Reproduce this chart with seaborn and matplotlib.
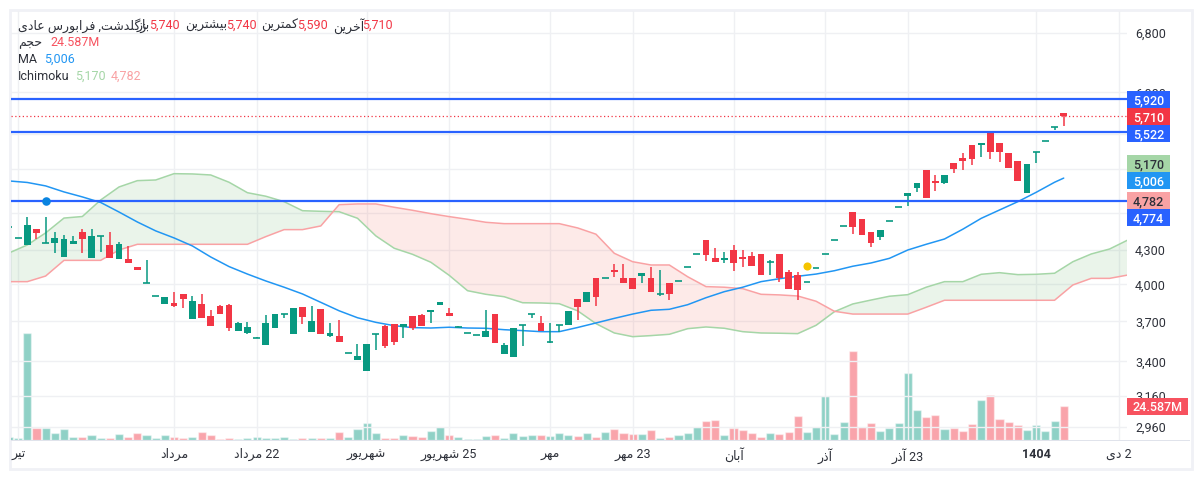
#!python3.12
import matplotlib
matplotlib.use("Agg")
import matplotlib.pyplot as plt
from matplotlib.patches import Rectangle
from matplotlib.ticker import FixedLocator, NullLocator
import numpy as np
import pandas as pd
import seaborn as sns

W, H = 1203, 478

# candles start two bars left of the first full one
opens = [4515, 4410, 4347, 4496, 4365, 4365, 4238, 4356, 4468, 4229, 4426, 4347, 4220, 4220, 4149, 4009, 3901, 3838, 3846, 3920,
         3718, 3838, 3742, 3821, 3829, 3625, 3610, 3572, 3520, 3648, 3761, 3603, 3813, 3618, 3797, 3587, 3587, 3458, 3410, 3334,
         3603, 3664, 3679, 3656, 3742, 3750, 3773, 3829, 3765, 3656, 3608, 3593, 3580, 3757, 3453, 3432, 3671, 3757, 3687, 3542,
         3671, 3671, 3878, 3854, 4054, 4051, 4123, 4054, 4054, 4071, 4054, 3920, 4012, 4026, 4146, 4262, 4393, 4229, 4211, 4301,
         4238, 4247, 4265, 4194, 4265, 4106, 4080, 4018, 4138, 4262, 4390, 4522, 4660, 4592, 4468, 4421, 4570, 4707, 4821, 4903,
         5092, 4976, 4955, 5168, 5223, 5368, 5368, 5529, 5391, 5279, 5190, 4851, 5286, 5410, 5573, 5740]
closes = [4515, 4410, 4535, 4462, 4365, 4412, 4402, 4384, 4402, 4431, 4426, 4229, 4356, 4185, 4123, 4009, 3901, 3895, 3821, 3878,
          3862, 3726, 3664, 3757, 3648, 3687, 3656, 3572, 3687, 3757, 3761, 3805, 3734, 3702, 3603, 3610, 3542, 3458, 3439, 3527,
          3603, 3512, 3542, 3679, 3648, 3664, 3789, 3854, 3742, 3656, 3608, 3593, 3625, 3535, 3520, 3648, 3671, 3757, 3625, 3542,
          3671, 3781, 3813, 3936, 3895, 4051, 4106, 4012, 3961, 4097, 3936, 3920, 3920, 4026, 4146, 4262, 4256, 4194, 4229, 4185,
          4220, 4158, 4080, 4194, 4054, 3961, 3953, 4018, 4138, 4262, 4390, 4522, 4515, 4440, 4365, 4487, 4570, 4707, 4851, 4955,
          4800, 4955, 5039, 5103, 5190, 5212, 5391, 5290, 5290, 5114, 4976, 5157, 5286, 5410, 5573, 5710]
highs = [4515, 4410, 4611, 4496, 4611, 4468, 4440, 4431, 4496, 4496, 4426, 4468, 4375, 4338, 4149, 4211, 3901, 3895, 3936, 3920,
         3903, 3920, 3789, 3829, 3838, 3695, 3695, 3580, 3750, 3757, 3761, 3805, 3813, 3821, 3797, 3687, 3710, 3458, 3527, 3527,
         3603, 3671, 3679, 3679, 3742, 3757, 3789, 3854, 3805, 3664, 3608, 3593, 3789, 3757, 3535, 3648, 3671, 3757, 3742, 3687,
         3671, 3781, 3878, 3936, 4054, 4051, 4176, 4176, 4054, 4097, 4149, 4123, 4012, 4026, 4146, 4262, 4393, 4319, 4283, 4347,
         4301, 4283, 4265, 4211, 4265, 4123, 4106, 4018, 4138, 4262, 4390, 4522, 4660, 4592, 4468, 4487, 4570, 4707, 4851, 4955,
         5092, 5039, 5039, 5168, 5279, 5368, 5391, 5529, 5391, 5279, 5190, 5157, 5286, 5410, 5573, 5740]
lows = [4515, 4410, 4347, 4402, 4365, 4277, 4238, 4356, 4274, 4229, 4283, 4229, 4220, 4185, 4123, 4009, 3901, 3838, 3813, 3805,
        3718, 3726, 3664, 3757, 3625, 3625, 3603, 3572, 3520, 3648, 3726, 3603, 3679, 3618, 3603, 3580, 3542, 3458, 3410, 3334,
        3482, 3497, 3520, 3572, 3633, 3664, 3687, 3829, 3742, 3656, 3608, 3593, 3580, 3535, 3453, 3432, 3512, 3726, 3625, 3535,
        3618, 3671, 3710, 3854, 3821, 4051, 4063, 4012, 3961, 4012, 3936, 3903, 3870, 4026, 4146, 4262, 4202, 4194, 4185, 4114,
        4149, 4158, 4080, 4080, 4020, 3961, 3870, 4018, 4138, 4262, 4390, 4522, 4449, 4440, 4329, 4393, 4570, 4707, 4720, 4862,
        4800, 4872, 4944, 5060, 5092, 5146, 5234, 5212, 5179, 5114, 4976, 4851, 5168, 5410, 5541, 5590]
# millions of shares
volumes = [2.2, 1.4, 77.4, 8.7, 8.7, 5.1, 8.0, 2.2, 2.2, 3.6, 1.4, 1.4, 4.3, 2.2, 5.1, 3.6, 1.4, 3.6, 2.2, 1.4,
           2.2, 5.8, 3.6, 0.7, 1.4, 0.7, 1.4, 2.2, 1.4, 1.4, 2.2, 0.7, 1.4, 1.4, 1.4, 1.4, 5.8, 2.2, 8.0, 12.3,
           5.1, 1.4, 1.4, 3.6, 2.9, 2.2, 6.5, 9.4, 3.6, 2.2, 0.7, 0.7, 2.9, 3.6, 1.4, 5.1, 2.9, 3.6, 3.6, 2.9,
           5.1, 3.6, 2.9, 5.1, 2.2, 5.8, 8.0, 5.1, 4.3, 4.3, 7.2, 1.4, 2.2, 3.6, 5.1, 9.4, 13.7, 14.5, 3.6, 8.7,
           7.2, 5.1, 2.2, 5.1, 4.3, 5.8, 17.4, 5.8, 9.4, 31.8, 4.3, 13.0, 64.3, 9.4, 12.3, 6.5, 8.7, 12.3, 48.4, 21.7,
           16.6, 18.1, 8.0, 8.7, 6.5, 11.6, 28.9, 32.5, 15.2, 13.0, 10.8, 7.2, 10.8, 6.5, 13.7, 24.587]

# every second bar, the cloud runs on past the last candle
cloud_idx = list(range(-2, 121, 2))
senkou_a = [4274, 4347, 4459, 4601, 4616, 4780, 4913, 4979, 4986, 5053, 5050, 5039, 4962, 4854, 4818, 4763, 4673, 4667, 4663, 4599, 4431,
            4317, 4262, 4191, 4077, 3947, 3917, 3897, 3848, 3846, 3840, 3783, 3682, 3610, 3582, 3590, 3600, 3643, 3656, 3646, 3620,
            3610, 3608, 3605, 3669, 3776, 3838, 3870, 3901, 3914, 3976, 4023, 4023, 4086, 4100, 4083, 4086, 4095, 4196, 4265, 4310, 4393]
senkou_b = [4023, 4023, 4071, 4208, 4208, 4208, 4301, 4353, 4353, 4353, 4353, 4353, 4353, 4353, 4424, 4490, 4490, 4525, 4733, 4740, 4740,
            4707, 4677, 4644, 4615, 4589, 4560, 4547, 4547, 4547, 4547, 4506, 4447, 4271, 4196, 4167, 4167, 4065, 3981, 3976, 3964,
            3917, 3912, 3903, 3860, 3779, 3757, 3757, 3757, 3757, 3811, 3868, 3868, 3868, 3868, 3868, 3868, 3868, 3995, 4051, 4051, 4080]

ma_idx = list(range(-2, 113, 2)) + [113]
ma_vals = [4976, 4960, 4924, 4862, 4811, 4755, 4660, 4563, 4478, 4412, 4338, 4238, 4153, 4088, 4029, 3976, 3920, 3851, 3783, 3728,
           3692, 3666, 3651, 3648, 3654, 3648, 3646, 3635, 3628, 3620, 3620, 3652, 3687, 3723, 3757, 3787, 3795, 3832, 3889, 3939,
           3976, 4023, 4048, 4069, 4088, 4117, 4156, 4185, 4226, 4301, 4353, 4402, 4494, 4598, 4680, 4763, 4858, 4962, 5006]

level_lines = [5920, 5522, 4774]
last_price = 5710
y_ticks = [6800, 6000, 5500, 5100, 4650, 4300, 4000, 3700, 3400, 3160, 2960]
x_tick_idx = [-1, 16, 25, 37, 46, 57, 66, 77, 87, 96, 110, 119]

GREEN = "#089981"
RED = "#F23645"
BLUE = "#2962FF"
MA_BLUE = "#2196F3"
CLOUD_GREEN = "#A5D6A7"
CLOUD_RED = "#F9A2A4"
TEXT = "#2E313A"

# matplotlib has no arabic shaping, so pick the joined glyphs by hand
FORMS = {
    "ا": (0xFE8D, 0xFE8E), "آ": (0xFE81, 0xFE82), "د": (0xFEA9, 0xFEAA), "ذ": (0xFEAB, 0xFEAC),
    "ر": (0xFEAD, 0xFEAE), "ز": (0xFEAF, 0xFEB0), "و": (0xFEED, 0xFEEE),
    "ب": (0xFE8F, 0xFE90, 0xFE91, 0xFE92), "ت": (0xFE95, 0xFE96, 0xFE97, 0xFE98),
    "ج": (0xFE9D, 0xFE9E, 0xFE9F, 0xFEA0), "ح": (0xFEA1, 0xFEA2, 0xFEA3, 0xFEA4),
    "خ": (0xFEA5, 0xFEA6, 0xFEA7, 0xFEA8), "س": (0xFEB1, 0xFEB2, 0xFEB3, 0xFEB4),
    "ش": (0xFEB5, 0xFEB6, 0xFEB7, 0xFEB8), "ع": (0xFEC9, 0xFECA, 0xFECB, 0xFECC),
    "ف": (0xFED1, 0xFED2, 0xFED3, 0xFED4), "ک": (0xFB8E, 0xFB8F, 0xFB90, 0xFB91),
    "گ": (0xFB92, 0xFB93, 0xFB94, 0xFB95), "ل": (0xFEDD, 0xFEDE, 0xFEDF, 0xFEE0),
    "م": (0xFEE1, 0xFEE2, 0xFEE3, 0xFEE4), "ن": (0xFEE5, 0xFEE6, 0xFEE7, 0xFEE8),
    "ه": (0xFEE9, 0xFEEA, 0xFEEB, 0xFEEC), "ی": (0xFBFC, 0xFBFD, 0xFBFE, 0xFBFF),
}


def shape(text):
    out = []
    for n, ch in enumerate(text):
        if ch not in FORMS:
            out.append(ch)
            continue
        prev = text[n - 1] if n > 0 else ""
        nxt = text[n + 1] if n + 1 < len(text) else ""
        joins_prev = prev in FORMS and len(FORMS[prev]) == 4
        joins_next = nxt in FORMS and len(FORMS[ch]) == 4
        forms = FORMS[ch]
        if joins_prev and joins_next:
            code = forms[3]
        elif joins_next:
            code = forms[2]
        elif joins_prev:
            code = forms[1]
        else:
            code = forms[0]
        out.append(chr(code))
    return "".join(reversed(out))


x_tick_labels = [shape("تیر"), shape("مرداد"), shape("مرداد") + " 22", shape("شهریور"), shape("شهریور") + " 25",
                 shape("مهر"), shape("مهر") + " 23", shape("آبان"), shape("آذر"), shape("آذر") + " 23", "1404", shape("دی") + " 2"]


def fig_xy(x, y):
    return x / W, 1 - y / H


def badge(fig, y0, y1, label, face, color="white", x1=1170):
    fig.add_artist(Rectangle(fig_xy(1127, y1), (x1 - 1127) / W, (y1 - y0) / H, transform=fig.transFigure,
                             facecolor=face, edgecolor="none", zorder=5))
    x, y = fig_xy((1127 + x1) / 2, (y0 + y1) / 2)
    fig.text(x, y, label, color=color, ha="center", va="center_baseline", fontsize=9, fontweight="medium", zorder=6)


def main():
    sns.set_theme(style="white")
    plt.rcParams["font.family"] = ["Roboto", "DejaVu Sans"]

    candles = pd.DataFrame({"idx": range(-2, len(opens) - 2), "open": opens, "high": highs, "low": lows,
                            "close": closes, "volume": volumes})
    candles["up"] = candles.close >= candles.open
    candle_colors = np.where(candles.up, GREEN, RED)

    fig = plt.figure(figsize=(W / 100, H / 100), dpi=100, facecolor="white")
    # light frame round the whole widget
    fig.add_artist(Rectangle(fig_xy(9.5, 468.5), (1191.5 - 9.5) / W, (468.5 - 9.5) / H, transform=fig.transFigure,
                             facecolor="white", edgecolor="#F0F1F6", linewidth=2, zorder=-1))

    pos = [11 / W, 1 - 440 / H, 1116 / W, 429 / H]
    ax_vol = fig.add_axes(pos, zorder=1)
    ax = fig.add_axes(pos, zorder=2)
    ax.patch.set_visible(False)

    # volume sits on its own scale under the prices
    sns.barplot(data=candles, x="idx", y="volume", hue="up", palette={True: GREEN, False: RED}, dodge=False,
                native_scale=True, width=0.88, saturation=1, alpha=0.45, legend=False, errorbar=None, ax=ax_vol)
    ax_vol.set_xlim(-1.777, 119.9)
    ax_vol.set_ylim(0, 310)
    ax_vol.axis("off")

    ax.set_yscale("log")
    a = np.array(senkou_a)
    b = np.array(senkou_b)
    ax.fill_between(cloud_idx, a, b, where=a >= b, interpolate=True, color="#43A047", alpha=0.11, linewidth=0, zorder=1)
    ax.fill_between(cloud_idx, a, b, where=a <= b, interpolate=True, color="#F44336", alpha=0.11, linewidth=0, zorder=1)
    sns.lineplot(x=cloud_idx, y=senkou_a, color=CLOUD_GREEN, linewidth=1.1, estimator=None, ax=ax, zorder=2)
    sns.lineplot(x=cloud_idx, y=senkou_b, color=CLOUD_RED, linewidth=1.1, estimator=None, ax=ax, zorder=2)
    sns.lineplot(x=ma_idx, y=ma_vals, color=MA_BLUE, linewidth=1.1, estimator=None, ax=ax, zorder=3)

    # candles
    ax.vlines(candles.idx, candles.low, candles.high, colors=candle_colors, linewidth=1.1, zorder=4)
    bottoms = candles[["open", "close"]].min(axis=1)
    heights = (candles.open - candles.close).abs()
    ax.bar(candles.idx, heights, bottom=bottoms, width=0.74, color=candle_colors, linewidth=0, zorder=4)
    dojis = candles[heights == 0]
    ax.hlines(dojis.close, dojis.idx - 0.37, dojis.idx + 0.37, colors=GREEN, linewidth=1.2, zorder=4)

    for level in level_lines:
        ax.axhline(level, color=BLUE, linewidth=1.6, zorder=5)
    ax.axhline(last_price, color=RED, linewidth=0.9, linestyle=(0, (1, 2)), zorder=5)
    sns.scatterplot(x=[2], y=[4774], color="#0A84E0", s=38, linewidth=0, ax=ax, zorder=6, legend=False)
    sns.scatterplot(x=[85], y=[4158], color="#F5C400", s=34, linewidth=0, ax=ax, zorder=6, legend=False)

    ax.set_xlim(-1.777, 119.9)
    ax.set_ylim(2880, 7123)
    ax.yaxis.tick_right()
    ax.yaxis.set_major_locator(FixedLocator(y_ticks))
    ax.yaxis.set_minor_locator(NullLocator())
    ax.set_yticklabels([f"{v:,}" for v in y_ticks])
    ax.set_xticks(x_tick_idx)
    ax.set_xticklabels(x_tick_labels)
    ax.get_xticklabels()[10].set_fontweight("bold")
    ax.tick_params(axis="both", length=0, labelsize=9, labelcolor=TEXT)
    ax.tick_params(axis="y", pad=5.8)
    ax.tick_params(axis="x", pad=5.5)
    ax.set_xlabel("")
    ax.set_ylabel("")
    ax.grid(True, color="#EFF0F3", linewidth=1)
    ax.set_axisbelow(True)
    for spine in ax.spines.values():
        spine.set_visible(False)

    # axis line runs under the price column as well
    fig.add_artist(Rectangle(fig_xy(11, 440.5), (1190 - 11) / W, 1 / H, transform=fig.transFigure,
                             facecolor="#E0E3EB", edgecolor="none", zorder=4))

    badge(fig, 91, 107.7, "5,920", BLUE)
    badge(fig, 107.7, 125, "5,710", RED)
    badge(fig, 125, 141.7, "5,522", BLUE)
    badge(fig, 155, 171.7, "5,170", CLOUD_GREEN, color=TEXT)
    badge(fig, 171.7, 189, "5,006", MA_BLUE)
    badge(fig, 192.3, 209, "4,782", CLOUD_RED, color=TEXT)
    badge(fig, 209, 225.7, "4,774", BLUE)
    badge(fig, 397.7, 415, "24.587M", "#F7525F", x1=1188)

    # legend rows, placed by hand like the widget does
    header = [
        (18, 24, shape("زگلدشت, فرابورس عادی"), TEXT),
        (137, 24, shape("باز"), TEXT), (149, 24, "5,740", RED),
        (185, 24, shape("بیشترین"), TEXT), (226, 24, "5,740", RED),
        (261, 24, shape("کمترین"), TEXT), (297, 24, "5,590", RED),
        (333, 24, shape("آخرین"), TEXT), (362, 24, "5,710", RED),
        (18, 41, shape("حجم"), TEXT), (50, 41, "24.587M", "#F7525F"),
        (18, 58, "MA", TEXT), (44, 58, "5,006", MA_BLUE),
        (18, 75, "Ichimoku", TEXT), (75, 75, "5,170", CLOUD_GREEN), (111, 75, "4,782", CLOUD_RED),
    ]
    for x, y, label, color in header:
        fx, fy = fig_xy(x, y)
        fig.text(fx, fy, label, color=color, ha="left", va="center_baseline", fontsize=9, zorder=6)

    fig.savefig("out.png", dpi=100)


if __name__ == "__main__":
    main()
